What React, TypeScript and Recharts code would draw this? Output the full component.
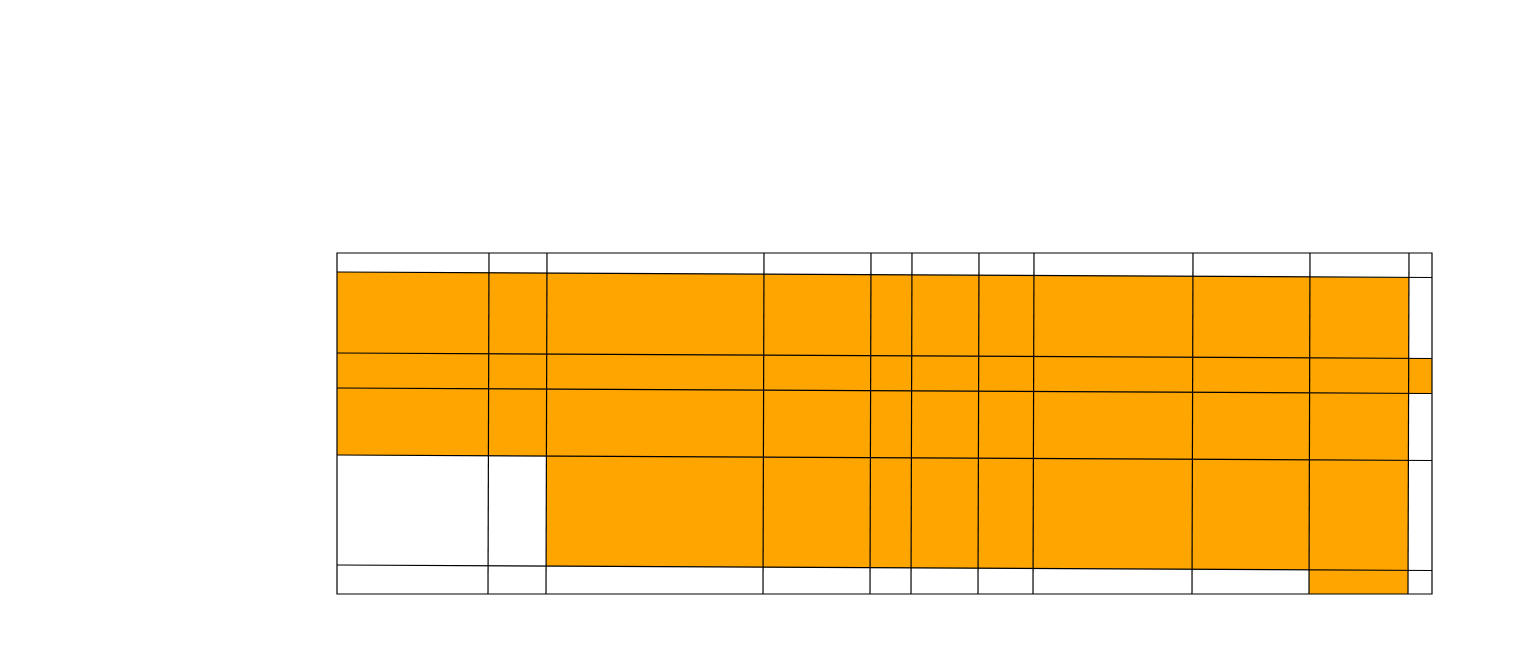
import React from 'react';
import { ScatterChart, XAxis, YAxis, ReferenceArea, ReferenceLine } from 'recharts';

// column widths and row heights (same units as the grid)
const colWidths = [152, 58, 217, 107, 41, 67, 55, 159, 117, 99, 23];
const rowHeights = [19, 81, 35, 67, 110, 29];

// 1 = orange cell, 0 = empty, rows top to bottom
const cellFill = [
  [0, 0, 0, 0, 0, 0, 0, 0, 0, 0, 0],
  [1, 1, 1, 1, 1, 1, 1, 1, 1, 1, 0],
  [1, 1, 1, 1, 1, 1, 1, 1, 1, 1, 1],
  [1, 1, 1, 1, 1, 1, 1, 1, 1, 1, 0],
  [0, 0, 1, 1, 1, 1, 1, 1, 1, 1, 0],
  [0, 0, 0, 0, 0, 0, 0, 0, 0, 1, 0],
];

// the inner lines are a little tilted
const shearY = 5.5;
const shearX = -1;

const ORANGE = '#ffa500';

const cumulative = (arr: number[]) => {
  const out = [0];
  arr.forEach((v) => out.push(out[out.length - 1] + v));
  return out;
};

const colEdges = cumulative(colWidths);
const rowEdges = cumulative(rowHeights);
const W = colEdges[colEdges.length - 1];
const H = rowEdges[rowEdges.length - 1];

const corner = (u: number, v: number) => {
  const innerU = u > 0 && u < W;
  const innerV = v > 0 && v < H;
  return {
    u: u + (innerU ? (shearX * v) / H : 0),
    v: v + (innerV ? (shearY * u) / W : 0),
  };
};

const cellShape = (r: number, c: number) => (p: any) => {
  const sx = p.width / colWidths[c];
  const sy = p.height / rowHeights[r];
  const left = p.x - colEdges[c] * sx;
  const top = p.y - rowEdges[r] * sy;
  const pts = [
    corner(colEdges[c], rowEdges[r]),
    corner(colEdges[c + 1], rowEdges[r]),
    corner(colEdges[c + 1], rowEdges[r + 1]),
    corner(colEdges[c], rowEdges[r + 1]),
  ]
    .map((q) => `${left + q.u * sx},${top + q.v * sy}`)
    .join(' ');
  return <polygon points={pts} fill={ORANGE} stroke="none" />;
};

const App = () => {
  const cells: { r: number; c: number }[] = [];
  cellFill.forEach((row, r) =>
    row.forEach((f, c) => {
      if (f) cells.push({ r, c });
    })
  );

  return (
    <div style={{ position: 'absolute', left: 0, top: 0 }}>
      <ScatterChart width={1522} height={658} margin={{ top: 253, right: 90, bottom: 64, left: 337 }}>
        <XAxis type="number" dataKey="x" domain={[0, W]} hide allowDataOverflow />
        <YAxis type="number" dataKey="y" domain={[0, H]} reversed hide allowDataOverflow />

        {cells.map(({ r, c }) => (
          <ReferenceArea
            key={`cell-${r}-${c}`}
            x1={colEdges[c]}
            x2={colEdges[c + 1]}
            y1={rowEdges[r]}
            y2={rowEdges[r + 1]}
            shape={cellShape(r, c)}
          />
        ))}

        {rowEdges.slice(1, -1).map((v) => (
          <ReferenceLine
            key={`h-${v}`}
            segment={[{ x: 0, y: v }, { x: W, y: v + shearY }]}
            stroke="#000"
            strokeWidth={1.2}
          />
        ))}
        {colEdges.slice(1, -1).map((u) => (
          <ReferenceLine
            key={`v-${u}`}
            segment={[{ x: u, y: 0 }, { x: u + shearX, y: H }]}
            stroke="#000"
            strokeWidth={1.2}
          />
        ))}

        <ReferenceArea x1={0} x2={W} y1={0} y2={H} fill="none" fillOpacity={0} stroke="#000" strokeWidth={1.2} />
      </ScatterChart>
    </div>
  );
};

export default App;
